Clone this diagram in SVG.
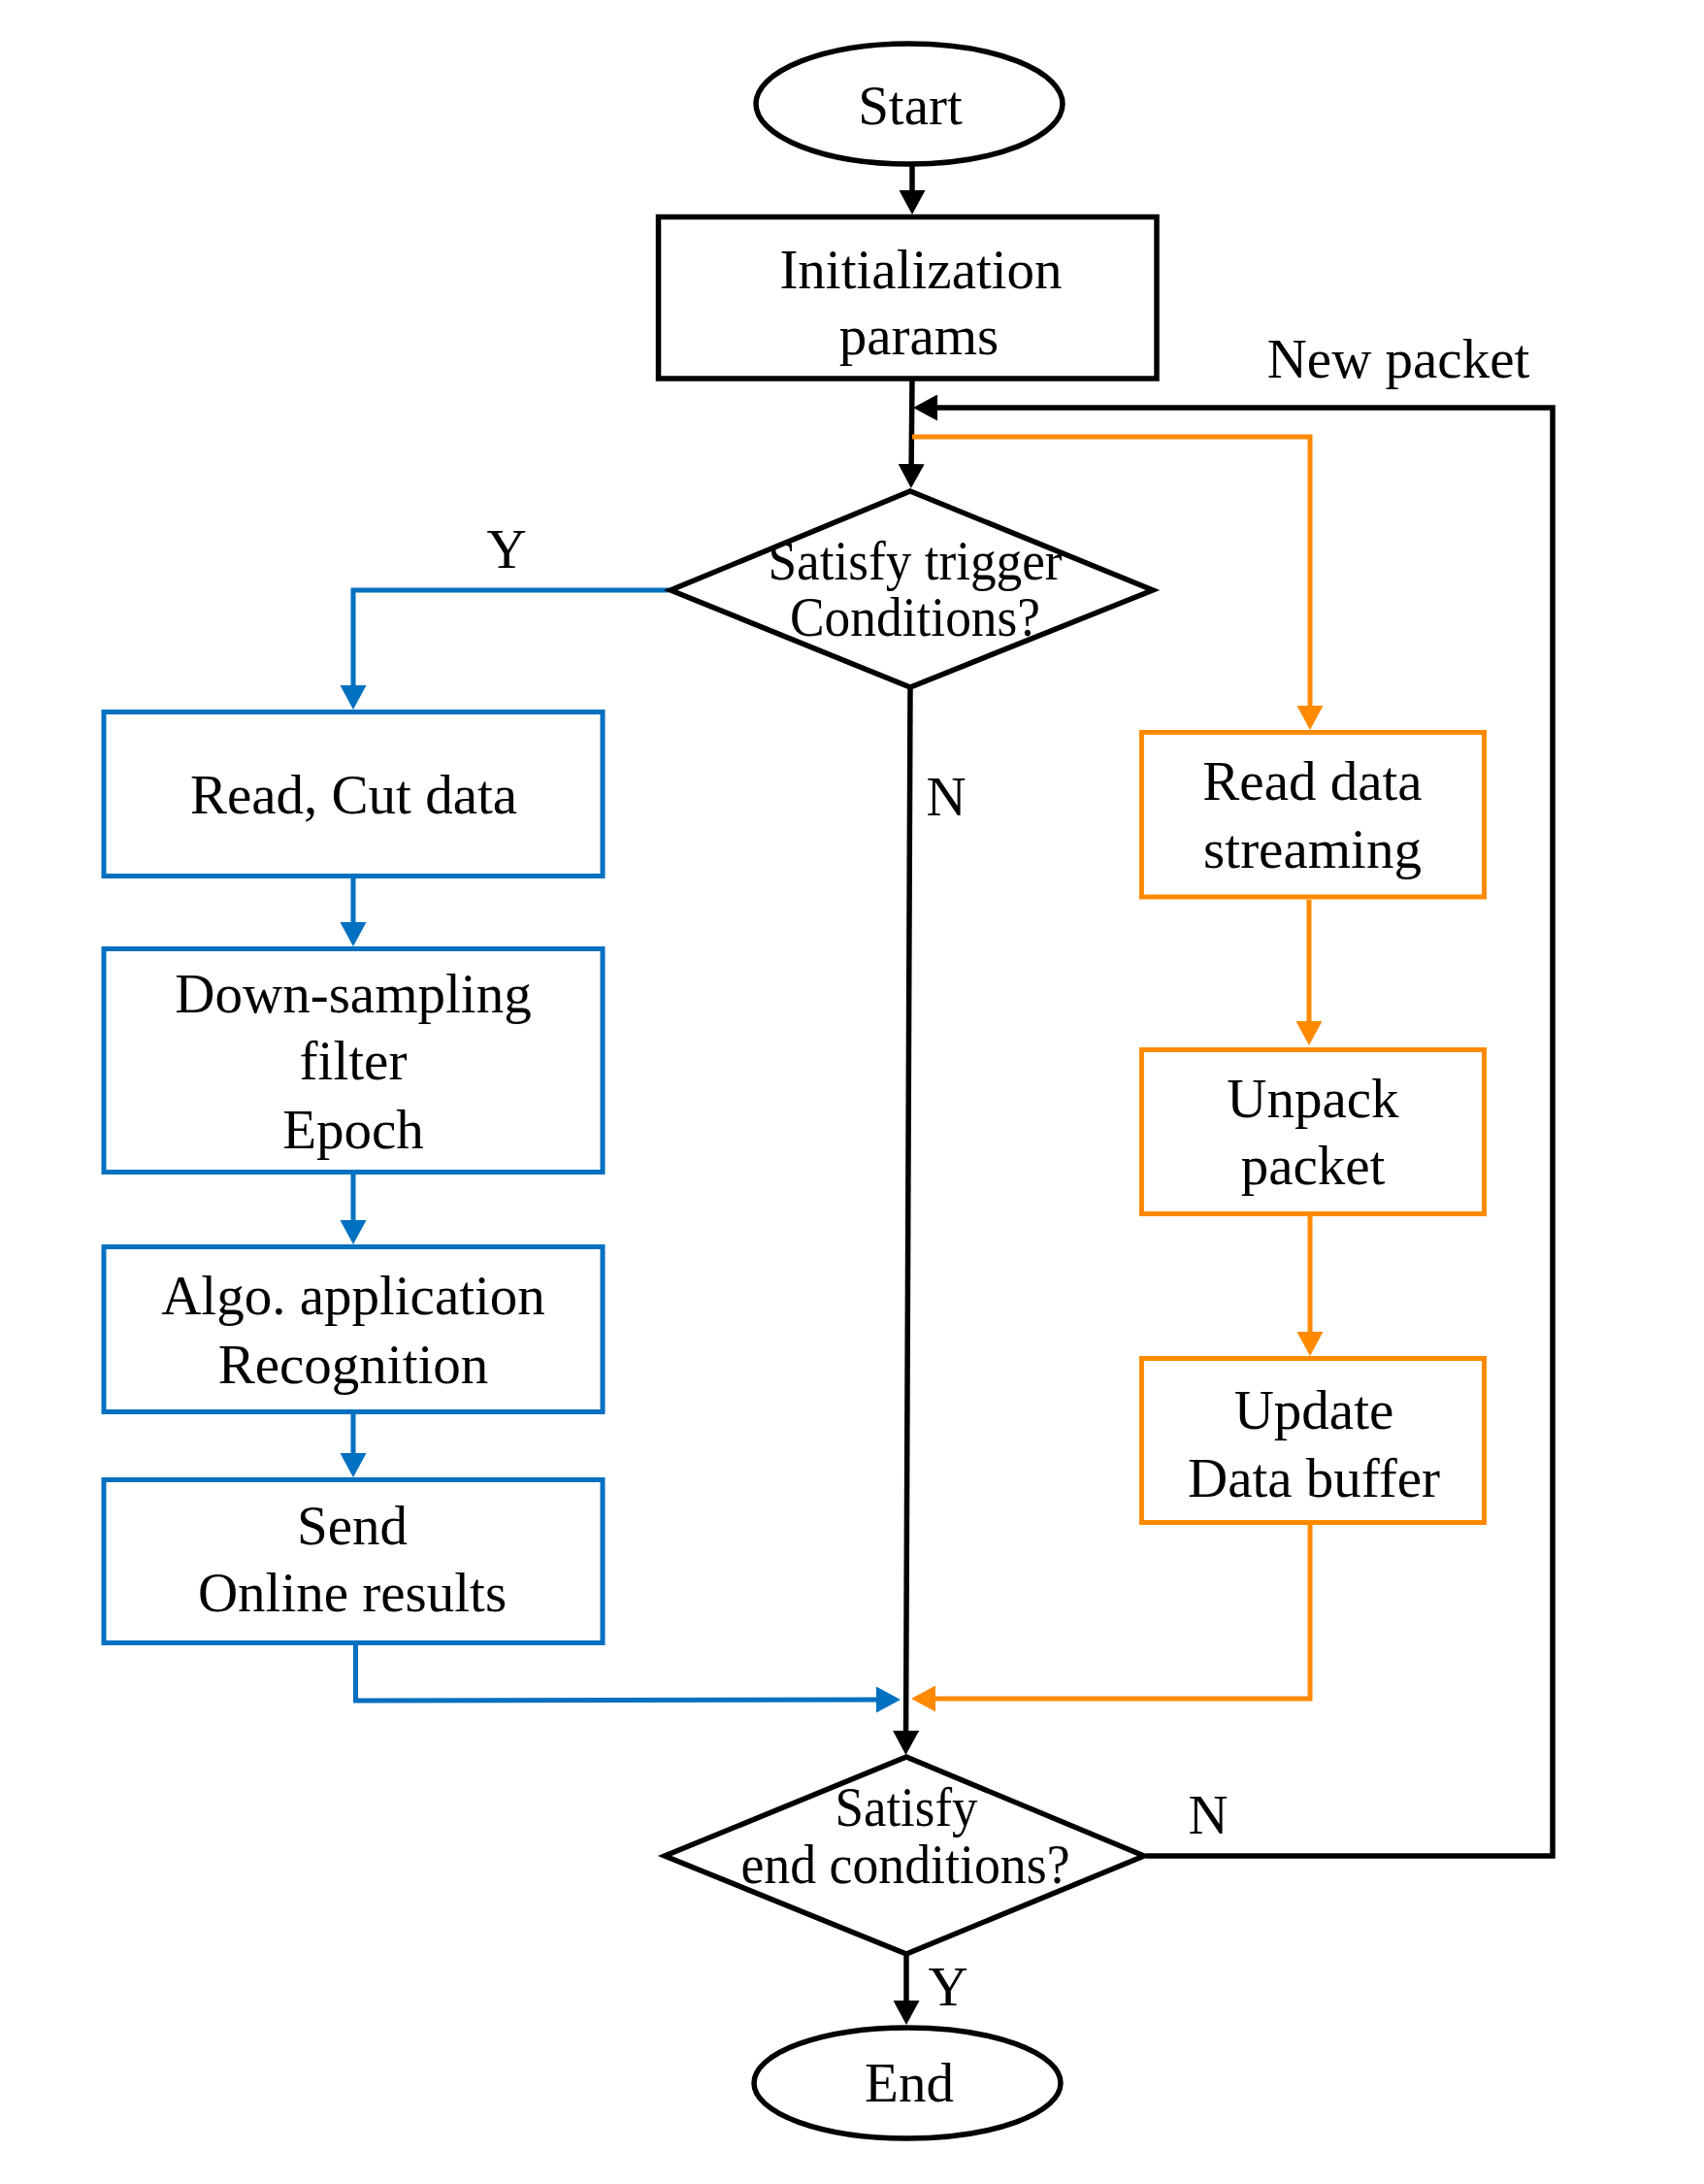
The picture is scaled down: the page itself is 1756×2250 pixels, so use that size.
<svg xmlns="http://www.w3.org/2000/svg" width="1756" height="2250" viewBox="0 0 1756 2250">
<style>
  text { font-family: "Liberation Serif", "Times New Roman", serif; font-size: 57px; fill: #000; text-anchor: middle; }
  .cond { font-size: 57px; }
  .node-black { fill: #fff; stroke: #000; stroke-width: 5.5; }
  .node-blue { fill: #fff; stroke: #0070C0; stroke-width: 5; }
  .node-orange { fill: #fff; stroke: #FF8A00; stroke-width: 5; }
  .c-black { fill: none; stroke: #000; stroke-width: 5.5; }
  .c-blue { fill: none; stroke: #0070C0; stroke-width: 5; }
  .c-orange { fill: none; stroke: #FF8A00; stroke-width: 5; }
</style>
<defs>
  <marker id="ah-black" viewBox="0 0 25 27" refX="13" refY="13.5" markerWidth="25" markerHeight="27" markerUnits="userSpaceOnUse" orient="auto">
    <path d="M0,0 L25,13.5 L0,27 z" fill="#000"/>
  </marker>
  <marker id="ah-blue" viewBox="0 0 25 27" refX="13" refY="13.5" markerWidth="25" markerHeight="27" markerUnits="userSpaceOnUse" orient="auto">
    <path d="M0,0 L25,13.5 L0,27 z" fill="#0070C0"/>
  </marker>
  <marker id="ah-orange" viewBox="0 0 25 27" refX="13" refY="13.5" markerWidth="25" markerHeight="27" markerUnits="userSpaceOnUse" orient="auto">
    <path d="M0,0 L25,13.5 L0,27 z" fill="#FF8A00"/>
  </marker>
</defs>

<g id="connectors">
  <path class="c-black" d="M940,169 L940,209" marker-end="url(#ah-black)"/>
  <path class="c-black" d="M940,390 L939,491" marker-end="url(#ah-black)"/>
  <path class="c-black" d="M1181,1912 L1600,1912 L1600,420 L953,420" marker-end="url(#ah-black)"/>
  <path class="c-orange" d="M940,450 L1350,450 L1350,740" marker-end="url(#ah-orange)"/>
  <path class="c-blue" d="M689,608 L364,608 L364,719" marker-end="url(#ah-blue)"/>
  <path class="c-black" d="M938,709 L933.5,1796" marker-end="url(#ah-black)"/>
  <path class="c-blue" d="M364,905 L364,963" marker-end="url(#ah-blue)"/>
  <path class="c-blue" d="M364,1210 L364,1270" marker-end="url(#ah-blue)"/>
  <path class="c-blue" d="M364,1457 L364,1510" marker-end="url(#ah-blue)"/>
  <path class="c-blue" d="M366.5,1695 L366.5,1752 L916,1751" marker-end="url(#ah-blue)"/>
  <path class="c-orange" d="M1349,927 L1349,1065" marker-end="url(#ah-orange)"/>
  <path class="c-orange" d="M1350,1253 L1350,1385" marker-end="url(#ah-orange)"/>
  <path class="c-orange" d="M1350,1571 L1350,1750 L951,1750" marker-end="url(#ah-orange)"/>
  <path class="c-black" d="M934,2015 L934,2074" marker-end="url(#ah-black)"/>
  <text x="1441" y="389">New packet</text>
  <text x="522" y="585">Y</text>
  <text x="975" y="840">N</text>
  <text x="1245" y="1889">N</text>
  <text x="977" y="2066">Y</text>
</g>

<g id="start">
  <ellipse class="node-black" cx="937" cy="107" rx="158" ry="62"/>
  <text x="938" y="128">Start</text>
</g>

<g id="init">
  <rect class="node-black" x="678.5" y="223.5" width="513.5" height="166.5"/>
  <text x="949" y="297">Initialization</text>
  <text x="947" y="365">params</text>
</g>

<g id="trigger">
  <polygon class="node-black" points="938,506 1188,608 938,708 691,608"/>
  <text class="cond" x="943" y="597" textLength="303" lengthAdjust="spacingAndGlyphs">Satisfy trigger</text>
  <text class="cond" x="943" y="655" textLength="258" lengthAdjust="spacingAndGlyphs">Conditions?</text>
</g>

<g id="read-cut">
  <rect class="node-blue" x="107" y="733.5" width="514" height="169"/>
  <text x="364.5" y="838">Read, Cut data</text>
</g>

<g id="downsampling">
  <rect class="node-blue" x="107" y="977.5" width="514" height="230"/>
  <text x="364" y="1043">Down-sampling</text>
  <text x="364" y="1112">filter</text>
  <text x="364" y="1183">Epoch</text>
</g>

<g id="algo">
  <rect class="node-blue" x="107" y="1284.5" width="514" height="170"/>
  <text x="364" y="1354">Algo. application</text>
  <text x="364" y="1425">Recognition</text>
</g>

<g id="send">
  <rect class="node-blue" x="107" y="1524.5" width="514" height="168"/>
  <text x="363" y="1591">Send</text>
  <text x="363" y="1660">Online results</text>
</g>

<g id="read-stream">
  <rect class="node-orange" x="1176.5" y="754.5" width="353" height="169.5"/>
  <text x="1352.5" y="824">Read data</text>
  <text x="1352.5" y="894">streaming</text>
</g>

<g id="unpack">
  <rect class="node-orange" x="1176.5" y="1081.5" width="353" height="169"/>
  <text x="1353" y="1151">Unpack</text>
  <text x="1353" y="1220">packet</text>
</g>

<g id="update">
  <rect class="node-orange" x="1176.5" y="1399.5" width="353" height="169"/>
  <text x="1354" y="1472">Update</text>
  <text x="1354" y="1542">Data buffer</text>
</g>

<g id="end-cond">
  <polygon class="node-black" points="934,1810 1179,1912 934,2013 685,1912"/>
  <text class="cond" x="934" y="1881" textLength="147" lengthAdjust="spacingAndGlyphs">Satisfy</text>
  <text class="cond" x="933" y="1940" textLength="339" lengthAdjust="spacingAndGlyphs">end conditions?</text>
</g>

<g id="end">
  <ellipse class="node-black" cx="935" cy="2146" rx="158" ry="57"/>
  <text x="937" y="2165">End</text>
</g>
</svg>
